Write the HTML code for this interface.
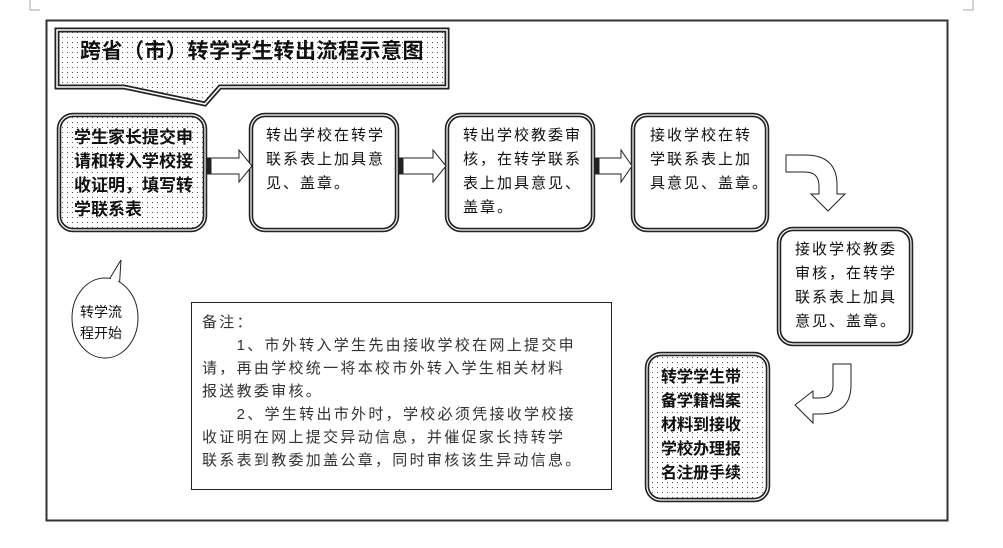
<!DOCTYPE html>
<html><head><meta charset="utf-8"><style>
body{margin:0;width:1003px;height:548px;background:#fff;position:relative;overflow:hidden;font-family:"Liberation Sans","Noto Sans CJK SC","WenQuanYi Zen Hei",sans-serif;color:#111}
.t{position:absolute;font-size:15px;line-height:24px;letter-spacing:2px}
.b{font-weight:bold;font-size:17px;letter-spacing:0;line-height:24px}
svg{position:absolute;left:0;top:0}
</style></head><body>
<svg width="1003" height="548">
<defs>
<pattern id="dots" width="5" height="5" patternUnits="userSpaceOnUse"><rect width="5" height="5" fill="#fff"/><rect x="2" y="2" width="1" height="1" fill="#555"/></pattern>
</defs>
<path d="M30 0V10H40" fill="none" stroke="#aaa"/>
<path d="M973 0V10H963" fill="none" stroke="#aaa"/>
<rect x="46.5" y="20.5" width="901" height="500" fill="none" stroke="#333" stroke-width="2"/>
<path d="M57 30H447V87H220L205 104L124 87H57Z" fill="url(#dots)" stroke="#222" stroke-width="5" stroke-linejoin="miter"/>
<path d="M57 30H447V87H220L205 104L124 87H57Z" fill="none" stroke="#fff" stroke-width="1.5"/>
<g stroke="#222" stroke-width="4.5">
<rect x="59" y="115" width="146" height="115" rx="14" fill="url(#dots)"/>
<rect x="251" y="115" width="146" height="115" rx="14" fill="#fff"/>
<rect x="447" y="115" width="146" height="115" rx="14" fill="#fff"/>
<rect x="633" y="115" width="134" height="115" rx="14" fill="#fff"/>
<rect x="779" y="229" width="132" height="115" rx="14" fill="#fff"/>
<rect x="647" y="354" width="121" height="146" rx="14" fill="url(#dots)"/>
</g>
<g stroke="#fff" stroke-width="1.2" fill="none">
<rect x="59" y="115" width="146" height="115" rx="14"/>
<rect x="251" y="115" width="146" height="115" rx="14"/>
<rect x="447" y="115" width="146" height="115" rx="14"/>
<rect x="633" y="115" width="134" height="115" rx="14"/>
<rect x="779" y="229" width="132" height="115" rx="14"/>
<rect x="647" y="354" width="121" height="146" rx="14"/>
</g>
<g fill="#fff" stroke="#222" stroke-width="1">
<rect x="207" y="158" width="3" height="16" fill="#222"/>
<path d="M211 158H239V150L252 166L239 182V174H211Z"/>
<rect x="399" y="158" width="3" height="16" fill="#222"/>
<path d="M403 158H433V150L446 166L433 182V174H403Z"/>
<rect x="595" y="158" width="3" height="16" fill="#222"/>
<path d="M599 158H621V150L632 166L621 182V174H599Z"/>
<path d="M786 155H805Q837 155 837 185V194H845L828 211L811 194H819V186Q819 172 805 172H786Z"/>
<path d="M851 364V385Q851 414 820 414H813V423L795 405L813 391V398H820Q833 398 833 385V364Z"/>
</g>
<path d="M107 283L121 260L119 292" fill="#fff" stroke="#222"/>
<ellipse cx="105" cy="318" rx="33" ry="40" fill="#fff" stroke="#222"/>
<path d="M109 282L120 263L118 285Z" fill="#fff" stroke="none"/>
<rect x="191.5" y="302.5" width="420" height="187" fill="#fff" stroke="#222"/>
</svg>
<div class="t b" style="left:80px;top:36px;font-size:21px;letter-spacing:0.5px;line-height:32px">跨省（市）转学学生转出流程示意图</div>
<div class="t b" style="left:74px;top:126px">学生家长提交申<br>请和转入学校接<br>收证明，填写转<br>学联系表</div>
<div class="t" style="left:266px;top:124px">转出学校在转学<br>联系表上加具意<br>见、盖章。</div>
<div class="t" style="left:463px;top:124px">转出学校教委审<br>核，在转学联系<br>表上加具意见、<br>盖章。</div>
<div class="t" style="left:650px;top:124px">接收学校在转<br>学联系表上加<br>具意见、盖章。</div>
<div class="t" style="left:795px;top:238px">接收学校教委<br>审核，在转学<br>联系表上加具<br>意见、盖章。</div>
<div class="t b" style="left:661px;top:366px;font-size:16px">转学学生带<br>备学籍档案<br>材料到接收<br>学校办理报<br>名注册手续</div>
<div class="t" style="left:80px;top:302px;font-size:14px;letter-spacing:0;line-height:21px">转学流<br>程开始</div>
<div class="t" style="left:202px;top:311px;line-height:23px;letter-spacing:2.3px;width:405px;color:#333">备注：<br>&emsp;&emsp;1、市外转入学生先由接收学校在网上提交申<br>请，再由学校统一将本校市外转入学生相关材料<br>报送教委审核。<br>&emsp;&emsp;2、学生转出市外时，学校必须凭接收学校接<br>收证明在网上提交异动信息，并催促家长持转学<br>联系表到教委加盖公章，同时审核该生异动信息。</div>
</body></html>
